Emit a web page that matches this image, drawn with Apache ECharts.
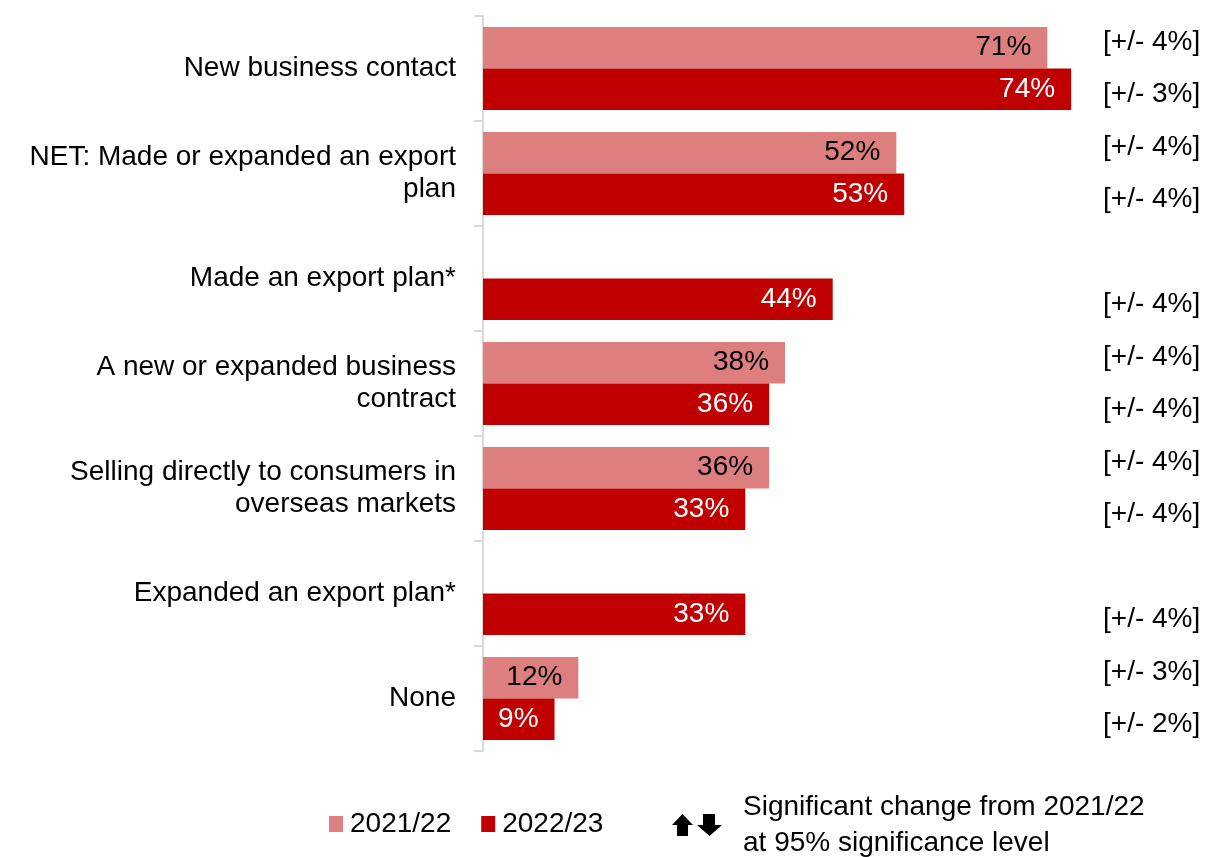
<!DOCTYPE html>
<html>
<head>
<meta charset="utf-8">
<script src="https://cdn.jsdelivr.net/npm/echarts@6/dist/echarts.min.js"></script>
<style>
  html, body { margin: 0; padding: 0; background: #fff; }
  #chart { width: 1206px; height: 857px; }
</style>
</head>
<body>
<div id="chart"></div>
<script>
// Categories, top to bottom
const categories = [
  'New business contact',
  'NET: Made or expanded an export\nplan',
  'Made an export plan*',
  'A new or expanded business\ncontract',
  'Selling directly to consumers in\noverseas markets',
  'Expanded an export plan*',
  'None'
];
const seriesNames = ['2021/22', '2022/23'];
const values2122 = [71, 52, null, 38, 36, null, 12];
const values2223 = [74, 53, 44, 36, 33, 33, 9];
// Margin of error per bar (2021/22, 2022/23) for each category
const moe2122 = ['[+/- 4%]', '[+/- 4%]', '', '[+/- 4%]', '[+/- 4%]', '', '[+/- 3%]'];
const moe2223 = ['[+/- 3%]', '[+/- 4%]', '[+/- 4%]', '[+/- 4%]', '[+/- 4%]', '[+/- 4%]', '[+/- 2%]'];

// Two right-hand slots per category, one for each bar
const moeLabels = [];
categories.forEach((c, i) => { moeLabels.push(moe2122[i], moe2223[i]); });
const moeSlots = moeLabels.map((_, i) => 'slot' + i);

const FONT = 'Liberation Sans, Arial, sans-serif';
const FS = 28;
const chart = echarts.init(document.getElementById('chart'), null, { renderer: 'canvas' });

// Block arrows used as the significance key
const upArrow = [[672, 825], [682.5, 814], [693, 825], [688, 825], [688, 836], [677, 836], [677, 825]];
const downArrow = [[703, 814], [715, 814], [715, 825], [722, 825], [709.5, 836], [697, 825], [703, 825]];

chart.setOption({
  animation: false,
  textStyle: { fontFamily: FONT },
  grid: { left: 483, top: 16, width: 612, height: 735, containLabel: false },
  xAxis: {
    type: 'value', min: 0, max: 77,
    show: false
  },
  yAxis: [
    {
      type: 'category',
      data: categories,
      inverse: true,
      axisLine: { show: true, lineStyle: { color: '#d9d9d9', width: 2 } },
      axisTick: { show: true, length: 9, lineStyle: { color: '#d9d9d9', width: 2 } },
      axisLabel: {
        fontSize: FS, color: '#000', fontFamily: FONT,
        align: 'right', margin: 27, lineHeight: 32
      }
    },
    {
      type: 'category',
      data: moeSlots,
      inverse: true,
      position: 'right',
      axisLine: { show: false },
      axisTick: { show: false },
      axisLabel: {
        fontSize: FS, color: '#000', fontFamily: FONT, margin: 8,
        formatter: (v, i) => moeLabels[i]
      }
    }
  ],
  legend: {
    data: seriesNames,
    left: 329, top: 810, padding: 0,
    itemWidth: 14, itemHeight: 16, itemGap: 30,
    textStyle: { fontSize: FS, color: '#000', fontFamily: FONT, padding: [0, 0, 0, 2] },
    icon: 'rect'
  },
  graphic: [
    { type: 'polygon', shape: { points: upArrow }, style: { fill: '#000' } },
    { type: 'polygon', shape: { points: downArrow }, style: { fill: '#000' } },
    {
      type: 'text', left: 743, top: 789,
      style: {
        text: 'Significant change from 2021/22\nat 95% significance level',
        fontSize: FS, lineHeight: 36, fill: '#000', fontFamily: FONT
      }
    }
  ],
  series: [
    {
      name: seriesNames[0], type: 'bar', data: values2122,
      barGap: '0%', barCategoryGap: '21%',
      itemStyle: { color: '#dd7f7f' },
      label: {
        show: true, position: 'insideRight', distance: 16,
        formatter: '{c}%', fontSize: FS, color: '#000', fontFamily: FONT
      }
    },
    {
      name: seriesNames[1], type: 'bar', data: values2223,
      itemStyle: { color: '#c00000' },
      label: {
        show: true, position: 'insideRight', distance: 16,
        formatter: '{c}%', fontSize: FS, color: '#fff', fontFamily: FONT
      }
    }
  ]
});
</script>
</body>
</html>
